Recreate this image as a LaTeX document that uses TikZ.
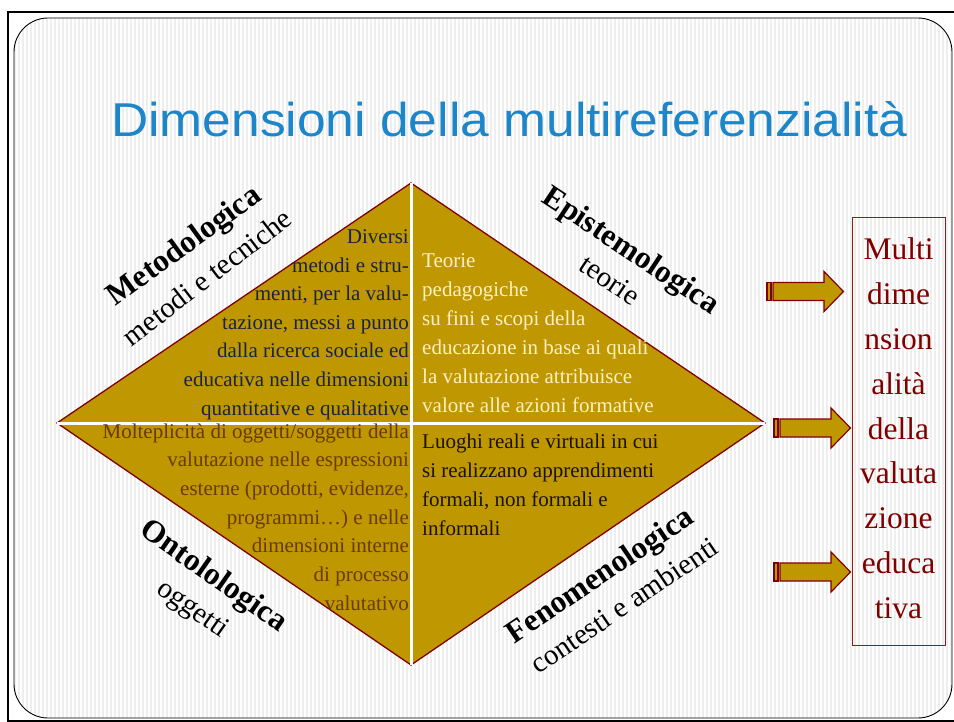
\documentclass[tikz,border=0pt]{standalone}
\usepackage{fontspec}
\setmainfont{Liberation Serif}
\newfontfamily\titlefont[FakeStretch=1.085]{Liberation Sans}
\definecolor{gold}{RGB}{191,151,0}
\definecolor{dred}{RGB}{128,0,0}
\definecolor{boxred}{RGB}{150,25,25}
\definecolor{titleblue}{RGB}{28,134,200}
\definecolor{ulcol}{RGB}{25,35,70}
\definecolor{urcol}{RGB}{255,240,195}
\definecolor{llcol}{RGB}{105,58,5}
\definecolor{lrcol}{RGB}{25,18,0}
\definecolor{stripecol}{RGB}{238,238,238}
\tikzset{
  qtext/.style={inner sep=0pt, font=\fontsize{21}{24}\selectfont},
  lblbold/.style={inner sep=0pt, font=\fontsize{31.5}{34}\selectfont\bfseries},
  lblreg/.style={inner sep=0pt, font=\fontsize{29}{32}\selectfont},
  boxtext/.style={inner sep=0pt, anchor=base, text=dred, font=\fontsize{31.5}{34}\selectfont},
  arrowbody/.style={fill=gold, draw=dred, line width=1.2pt, line join=miter},
}
\newcommand\blockarrow[2]{%
  \begin{scope}[shift={(#1,#2)}]
    \filldraw[arrowbody] (0,-9) rectangle (4,9);
    \filldraw[arrowbody] (6,-9) -- (57,-9) -- (57,-20) -- (76.5,0) -- (57,20) -- (57,9) -- (6,9) -- cycle;
  \end{scope}}
\begin{document}
\begin{tikzpicture}[x=1pt,y=-1pt]
\useasboundingbox (0,0) rectangle (954,722);
\fill[white] (0,0) rectangle (954,722);
\draw[line width=2pt] (8,12) rectangle (962,721);
% inner rounded panel with pinstripes
\begin{scope}
  \clip[rounded corners=34pt] (14,18) rectangle (952,718);
  \fill[white] (14,18) rectangle (952,718);
  \foreach \x in {15,19,...,951} \draw[stripecol, line width=1.6pt] (\x,18) -- (\x,718);
\end{scope}
\draw[line width=0.9pt, rounded corners=34pt] (14,18) rectangle (952,718);
% title
\node[inner sep=0pt, anchor=base west, text=titleblue, font=\titlefont\fontsize{47.5}{52}\selectfont] (title) at (111,137) {Dimensioni della multireferenzialità};
% diamond
\coordinate (T) at (411,183);
\coordinate (L) at (57,423);
\coordinate (R) at (765,423);
\coordinate (B) at (411,665);
\filldraw[fill=gold, draw=dred, line width=1.3pt] (T) -- (R) -- (B) -- (L) -- cycle;
\draw[white, line width=3pt] (T) -- (B);
\draw[white, line width=3pt] (L) -- (R);
% upper left text
\foreach \t [count=\i from 0] in {Diversi,metodi e stru-,{menti, per la valu-},{tazione, messi a punto},dalla ricerca sociale ed,educativa nelle dimensioni,quantitative e qualitative}
  \node[qtext, anchor=base east, text=ulcol] (ul\i) at (409,244+28.5*\i) {\t};
% upper right text
\foreach \t [count=\i from 0] in {Teorie,pedagogiche,su fini e scopi della,educazione in base ai quali,la valutazione attribuisce,valore alle azioni formative}
  \node[qtext, anchor=base west, text=urcol] (ur\i) at (422,268+28.8*\i) {\t};
% lower left text
\foreach \t [count=\i from 0] in {Molteplicità di oggetti/soggetti della,valutazione nelle espressioni,{esterne (prodotti, evidenze,},programmi…) e nelle,dimensioni interne,di processo,valutativo}
  \node[qtext, anchor=base east, text=llcol] (ll\i) at (409,438+28.7*\i) {\t};
% lower right text
\foreach \t [count=\i from 0] in {Luoghi reali e virtuali in cui,si realizzano apprendimenti,{formali, non formali e},informali}
  \node[qtext, anchor=base west, text=lrcol] (lr\i) at (422,448+29*\i) {\t};
% rotated labels
\node[lblbold, rotate=36] (metod) at (185,247) {Metodologica};
\node[lblreg, rotate=37.5] (metodsub) at (207,277) {metodi e tecniche};
\node[lblbold, rotate=-33.5] (epist) at (630,252) {Epistemologica};
\node[lblreg, rotate=-34] (epistsub) at (610,280) {teorie};
\node[lblbold, rotate=-35] (onto) at (213,577) {Ontolologica};
\node[lblreg, rotate=-35] (ontosub) at (192,610) {oggetti};
\node[lblbold, rotate=34] (fenom) at (601,577) {Fenomenologica};
\node[lblreg, rotate=34] (fenomsub) at (624,605) {contesti e ambienti};
% arrows
\blockarrow{767}{291.5}
\blockarrow{774}{428}
\blockarrow{774}{572}
% right box
\node[draw=boxred, line width=1pt, minimum width=93pt, minimum height=427pt, inner sep=0pt] (box) at (898.5,431.5) {};
\foreach \t [count=\i from 0] in {Multi,dime,nsion,alità,della,valuta,zione,educa,tiva}
  \node[boxtext] (bx\i) at (898.5,260+44.75*\i) {\t};
\end{tikzpicture}
\end{document}
